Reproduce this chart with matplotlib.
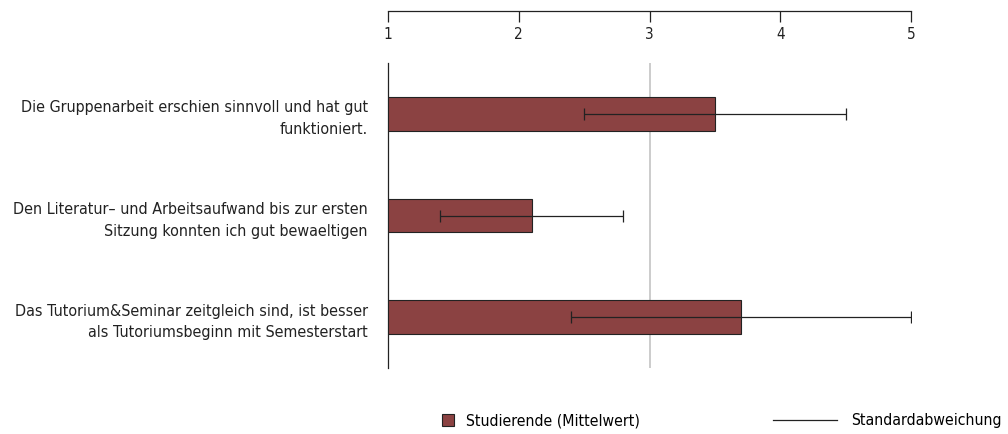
import matplotlib
matplotlib.use("Agg")
import matplotlib.pyplot as plt
from matplotlib import font_manager
from matplotlib.patches import Patch
from matplotlib.lines import Line2D

names = {f.name for f in font_manager.fontManager.ttflist}
fam = "Liberation Sans Narrow" if "Liberation Sans Narrow" in names else "DejaVu Sans"
plt.rcParams['font.family'] = [fam, 'DejaVu Sans']
plt.rcParams['font.stretch'] = 'condensed'

categories = [
    "Die Gruppenarbeit erschien sinnvoll und hat gut\nfunktioniert.",
    "Den Literatur\u2013 und Arbeitsaufwand bis zur ersten\nSitzung konnten ich gut bewaeltigen",
    "Das Tutorium&Seminar zeitgleich sind, ist besser\nals Tutoriumsbeginn mit Semesterstart",
]
means = [3.5, 2.1, 3.7]
sds = [1.0, 0.7, 1.3]
ticks = [1, 2, 3, 4, 5]

W, H = 1008, 434
fig = plt.figure(figsize=(W/100, H/100), dpi=100)
L, R, T, B = 388, 911, 63, 368
ax = fig.add_axes([L/W, 1 - B/H, (R-L)/W, (B-T)/H])

ypos = list(range(len(categories)))
bar_color = "#8B4242"
ax.barh(ypos, [m - 1 for m in means], left=1, height=0.33, color=bar_color,
        edgecolor="#222222", linewidth=0.8, zorder=3)
ax.errorbar(means, ypos, xerr=sds, fmt="none", ecolor="#222222", elinewidth=0.9,
            capsize=4, capthick=0.9, zorder=4)
ax.axvline(3, color="#cccccc", linewidth=1.4, zorder=1)
ax.set_xlim(1, 5)
ax.set_ylim(len(categories) - 0.5, -0.5)
for s in ["top", "right", "bottom"]:
    ax.spines[s].set_visible(False)
ax.spines["left"].set_linewidth(0.9)
ax.spines["left"].set_color("#222222")
ax.set_xticks([])
ax.set_yticks(ypos)
ax.set_yticklabels(categories, fontsize=11.5, linespacing=1.55, color="#222222")
ax.tick_params(axis="y", length=0, pad=14.5)

# top scale
ax2 = fig.add_axes([L/W, 1 - 23/H, (R-L)/W, 12/H])
ax2.set_xlim(1, 5)
ax2.set_yticks([])
for s in ["left", "right", "bottom"]:
    ax2.spines[s].set_visible(False)
ax2.spines["top"].set_linewidth(0.9)
ax2.spines["top"].set_color("#222222")
ax2.set_xticks(ticks)
ax2.set_xticklabels([str(t) for t in ticks], fontsize=11, color="#222222")
ax2.tick_params(axis="x", top=True, bottom=False, labeltop=False, labelbottom=True,
                direction="in", length=8, width=0.9, color="#222222", pad=3)
ax2.patch.set_visible(False)

# legends
h1 = Patch(facecolor=bar_color, edgecolor="#222222", linewidth=0.8)
leg1 = fig.legend([h1], ["Studierende (Mittelwert)"], loc="center left",
                  bbox_to_anchor=(442/W, 1 - 421/H), frameon=False, fontsize=11.3,
                  handlelength=0.77, handleheight=0.77, handletextpad=0.75, borderpad=0,
                  borderaxespad=0)
h2 = Line2D([], [], color="#222222", linewidth=0.9)
leg2 = fig.legend([h2], ["Standardabweichung"], loc="center left",
                  bbox_to_anchor=(773/W, 1 - 421/H), frameon=False, fontsize=11.3,
                  handlelength=4.1, handletextpad=0.9, borderpad=0, borderaxespad=0)

fig.savefig("out.png", dpi=100)
